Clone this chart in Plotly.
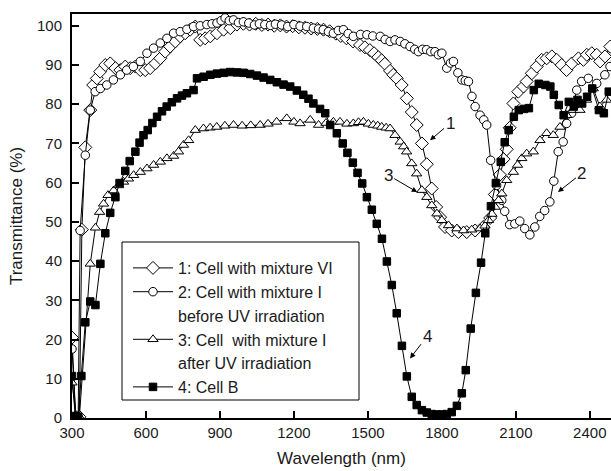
import plotly.graph_objects as go

# ---- data ----
wl1 = [300, 315, 330, 340, 354, 374, 386, 401, 414, 435, 455, 476, 496, 516, 536, 557, 577, 597, 617, 638,
       658, 678, 698, 719, 739, 759, 779, 800, 820, 840, 861, 888, 915, 942, 969, 995, 1020, 1045, 1070, 1095,
       1120, 1145, 1170, 1195, 1220, 1245, 1270, 1295, 1320, 1345, 1370, 1390, 1413, 1440, 1468, 1488, 1508,
       1525, 1542, 1556, 1569, 1590, 1603, 1617, 1637, 1658, 1678, 1698, 1719, 1739, 1759, 1777, 1793, 1813,
       1840, 1867, 1901, 1935, 1968, 1996, 2015, 2035, 2050, 2063, 2075, 2090, 2110, 2131, 2144, 2165, 2185,
       2205, 2225, 2246, 2266, 2286, 2306, 2327, 2354, 2374, 2388, 2408, 2428, 2442, 2462, 2483]
t1 = [20.5, 0.3, 0.3, 48, 69, 78.5, 84.9, 86.6, 88.3, 90, 90.4, 89.2, 88.7, 89.6, 89.2, 89.6, 88.7, 88.7, 89.2, 90.4,
      91.7, 93.4, 94.7, 96, 97.3, 98.1, 99, 99.8, 96.4, 96.8, 97.3, 98.1, 99, 99.4, 100.3, 100.5, 100.3, 100.5, 100.2, 100.3,
      100, 100.1, 99.8, 99.9, 99.6, 99.5, 99.3, 99.2, 99, 98.6, 98, 97.4, 96.8, 96, 95.1, 94.5, 93.8,
      93, 92, 91.2, 90.3, 88.5, 87.5, 86.6, 84.9, 81.5, 78, 74.7, 70, 64.7, 58.5, 53.8, 51.2, 48.7,
      47.8, 47.4, 47.4, 47.8, 48.7, 51, 57, 62, 66, 68.5, 74, 80.2, 83.2, 84.5, 85.8, 87.9, 89.6,
      91.3, 91.7, 92.2, 91.3, 90, 88.7, 90.4, 91.7, 91.3, 92.6, 93, 92.6, 90.9, 92.2, 94.7]

wl2 = [300, 315, 325, 333, 354, 374, 394, 415, 441, 468, 496, 522, 549, 577, 604, 631, 658, 685, 712, 739,
       766, 793, 820, 847, 868, 888, 905, 921, 938, 955, 975, 995, 1017, 1040, 1060, 1082, 1105, 1125, 1150,
       1175, 1200, 1225, 1252, 1279, 1300, 1319, 1340, 1360, 1380, 1401, 1420, 1441, 1470, 1496, 1520, 1550,
       1570, 1590, 1610, 1631, 1650, 1671, 1690, 1705, 1722, 1738, 1755, 1772, 1786, 1800, 1820, 1835, 1847,
       1865, 1881, 1895, 1908, 1922, 1935, 1955, 1970, 1982, 1998, 2022, 2043, 2055, 2075, 2096, 2116, 2136,
       2157, 2177, 2197, 2217, 2238, 2254, 2272, 2292, 2306, 2326, 2347, 2367, 2394, 2428, 2461, 2482]
t2 = [17.6, 0.3, 0.3, 47.8, 67, 78.5, 83.2, 84, 84.9, 86.2, 87.5, 88.7, 89.6, 90.9, 93, 94.3, 95.6, 96.8, 98.1, 98.5,
      99.1, 99.8, 100, 100.3, 100.5, 100.7, 101.3, 102, 101.3, 101.5, 100.8, 101, 100.7, 100.2, 100.5, 100.3, 100.1, 100.4, 100.2,
      99.8, 100.3, 99.9, 99.8, 99.4, 99.2, 99, 98.5, 98.1, 98.8, 99, 98, 97.3, 97.8, 97.7, 97.4, 97.3,
      96.5, 96, 96.4, 96, 95.4, 94.7, 94, 93.4, 94, 93.9, 93.4, 93.4, 92.6, 93, 89.2, 90.5, 90.9,
      88, 86.2, 86, 85.8, 82, 79.4, 77.2, 76, 74.7, 65.7, 59.3, 55.5, 52.7, 49.3, 49.5, 50.2, 48.3,
      46.7, 48.7, 51.4, 52.9, 55.1, 60.4, 67.9, 70.4, 75.1, 77.7, 83.6, 85.8, 86.6, 85.3, 87.5, 89.6]

wl3 = [300, 318, 330, 374, 395, 412, 428, 446, 469, 489, 509, 529, 550, 577, 604, 631, 658, 685, 712, 732,
       752, 773, 800, 833, 860, 887, 920, 955, 990, 1025, 1063, 1095, 1130, 1171, 1200, 1225, 1266, 1300,
       1330, 1360, 1387, 1415, 1441, 1462, 1482, 1502, 1522, 1540, 1556, 1574, 1590, 1610, 1631, 1645, 1657,
       1678, 1698, 1719, 1739, 1759, 1780, 1800, 1827, 1861, 1888, 1921, 1955, 1975, 1989, 2003, 2016, 2030,
       2043, 2063, 2090, 2107, 2124, 2144, 2171, 2198, 2225, 2252, 2279, 2306, 2333, 2360, 2387, 2414, 2441, 2468]
t3 = [9, 0.3, 0.3, 39.3, 48.5, 52.5, 54.6, 56.8, 58, 59.3, 60.2, 61, 61.9, 62.7, 63.6, 64.5, 65.3, 66.2, 66.8, 67.9,
      69.6, 70.8, 73.4, 73.8, 74, 74.2, 74.5, 74.7, 74.5, 74.6, 74.7, 75, 75.5, 76.4, 75.5, 75.1, 76, 74.7,
      75.2, 75.5, 75.5, 75, 75.1, 75.4, 75.5, 75, 74.7, 74.5, 74.2, 74, 73.8, 72.1, 70.4, 69.2, 67.9,
      64.9, 62.3, 58.1, 56.3, 54.2, 52.1, 50.4, 49.1, 48.3, 47.8, 48, 48.3, 49, 50.4, 52, 53.8, 55.5,
      57.2, 60.6, 62.7, 64.5, 66.2, 67.4, 67.9, 70.8, 72.6, 72.1, 74.2, 77.2, 78.5, 78.5, 81.1, 84, 79.4, 81.1]

wl4 = [300, 313, 325, 338, 354, 374, 395, 415, 435, 455, 476, 493, 516, 534, 557, 574, 590, 607, 626, 645,
       665, 684, 705, 726, 746, 766, 793, 807, 834, 861, 888, 915, 942, 969, 996, 1023, 1050, 1077, 1104,
       1131, 1158, 1185, 1212, 1238, 1259, 1279, 1306, 1327, 1347, 1374, 1398, 1417, 1439, 1458, 1477, 1496,
       1516, 1536, 1557, 1577, 1597, 1617, 1638, 1658, 1678, 1698, 1719, 1739, 1759, 1779, 1800, 1820, 1840,
       1861, 1881, 1897, 1917, 1938, 1959, 1976, 1999, 2019, 2039, 2055, 2071, 2092, 2112, 2133, 2153, 2173,
       2193, 2220, 2240, 2254, 2274, 2294, 2315, 2335, 2350, 2369, 2389, 2410, 2437, 2457, 2477]
t4 = [10.7, 0.5, 0.3, 10.7, 24.4, 29.7, 28.8, 39.3, 47.1, 52.3, 56.3, 59.9, 63, 65.5, 67.9, 70.2, 72.1, 73.4, 75.2, 76.8,
      78.2, 79.4, 80.5, 81.5, 82.2, 82.8, 83.6, 86.6, 87, 87.5, 87.8, 88, 88.2, 88.1, 88, 87.7, 87.3, 86.8, 86.2,
      85.6, 85, 84.5, 83.5, 82.4, 81.4, 80.2, 78.8, 77.7, 74.7, 72.6, 70, 67.6, 65.1, 62.5, 59.8, 56.3,
      53.1, 49.5, 45.7, 39.9, 33.9, 26.7, 18.4, 10.6, 5.4, 3.3, 2, 1.4, 1, 0.9, 0.9, 1, 1.5,
      3.1, 6.3, 12.2, 22.8, 31.9, 39.6, 47.1, 54, 59.9, 65.3, 70.3, 73.4, 76.8, 78.5, 78.8, 79, 83.6,
      85.2, 84.9, 84.5, 82.4, 79.8, 77.2, 80.6, 79.4, 81.1, 80.2, 81.9, 84, 78.5, 77.7, 83.2]

names = ["1: Cell with mixture VI", "2: Cell with mixture I", "before UV irradiation",
         "3: Cell  with mixture I", "after UV irradiation", "4: Cell B"]
x_ticks = [300, 600, 900, 1200, 1500, 1800, 2100, 2400]
y_ticks = [0, 10, 20, 30, 40, 50, 60, 70, 80, 90, 100]

FONT = "Liberation Sans, Arial, sans-serif"
TXT = "#1a1a1a"

W, H = 611, 471
ML, MR, MT, MB = 72, 0, 14, 53
PW, PH = W - ML - MR, H - MT - MB


def px_to_paper(xp, yp):
    return (xp - ML) / PW, (H - MB - yp) / PH


fig = go.Figure()


def add_series(x, y, name, symbol, size, fill):
    fig.add_trace(go.Scatter(
        x=x, y=y, name=name, mode="lines+markers",
        line=dict(color="black", width=1),
        marker=dict(symbol=symbol, size=size, color=fill,
                    line=dict(color="black", width=1)),
    ))


def add_blank(name):
    fig.add_trace(go.Scatter(x=[None], y=[None], name=name, mode="lines",
                             line=dict(color="rgba(0,0,0,0)", width=0)))


add_series(wl1, t1, names[0], "diamond", 10, "white")
add_series(wl2, t2, names[1], "circle", 8.5, "white")
add_blank(names[2])
add_series(wl3, t3, names[3], "triangle-up", 9, "white")
add_blank(names[4])
add_series(wl4, t4, names[5], "square", 7.5, "black")

arrows = [("1", 1752, 70.8, 20, -17), ("2", 2271, 57.6, 24, -19),
          ("3", 1700, 57.6, -29, -17), ("4", 1671, 15.2, 17, -22)]
for txt, ax_, ay_, dx, dy in arrows:
    fig.add_annotation(x=ax_, y=ay_, xref="x", yref="y", text=txt, showarrow=True,
                       ax=dx, ay=dy, arrowhead=2, arrowsize=1.1, arrowwidth=1,
                       arrowcolor="black", standoff=0, startstandoff=0,
                       font=dict(family=FONT, size=17, color=TXT))

# legend frame
bx0, by0 = px_to_paper(122, 400)
bx1, by1 = px_to_paper(359, 242)
fig.add_shape(type="rect", xref="paper", yref="paper", x0=bx0, y0=by0, x1=bx1, y1=by1,
              line=dict(color="black", width=1), fillcolor="white", layer="above")
lx, ly = px_to_paper(128, 251)

fig.update_layout(
    width=W, height=H,
    margin=dict(l=ML, r=MR, t=MT, b=MB),
    paper_bgcolor="white", plot_bgcolor="white",
    showlegend=True,
    legend=dict(x=lx, y=ly, xanchor="left", yanchor="top",
                borderwidth=0, bgcolor="rgba(0,0,0,0)", itemwidth=40,
                font=dict(family=FONT, size=16, color=TXT),
                tracegroupgap=0),
    font=dict(family=FONT, color=TXT),
)
fig.update_xaxes(range=[300, 2486], tickvals=x_ticks, ticktext=[str(v) for v in x_ticks],
                 showline=True, linecolor="black", linewidth=2, mirror=True,
                 ticks="inside", ticklen=7, tickwidth=1.5, tickcolor="black",
                 showgrid=False, zeroline=False, automargin=False,
                 tickfont=dict(family=FONT, size=15, color=TXT),
                 title=dict(text="Wavelength (nm)", font=dict(family=FONT, size=17, color=TXT), standoff=12))
fig.update_yaxes(range=[0, 103], tickvals=y_ticks, ticktext=[str(v) for v in y_ticks],
                 showline=True, linecolor="black", linewidth=2, mirror=False,
                 ticks="inside", ticklen=7, tickwidth=1.5, tickcolor="black",
                 showgrid=False, zeroline=False, automargin=False, ticklabelstandoff=5,
                 tickfont=dict(family=FONT, size=15, color=TXT),
                 title=dict(text="Transmittance (%)", font=dict(family=FONT, size=17, color=TXT), standoff=10))

fig.write_html("out.html", config={"displayModeBar": False},
               post_script="document.body.style.margin='0';")
